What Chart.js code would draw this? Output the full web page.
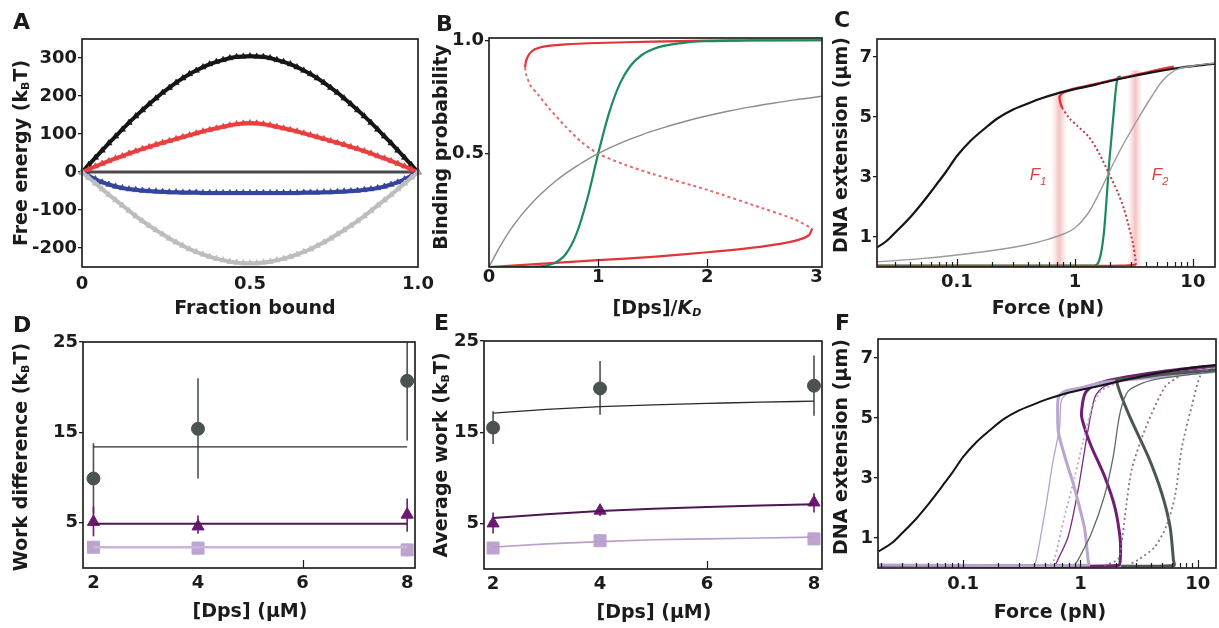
<!DOCTYPE html>
<html>
<head>
<meta charset="utf-8">
<script src="https://cdn.jsdelivr.net/npm/chart.js@4.4.1/dist/chart.umd.min.js"></script>
<style>
  body { margin: 0; background: #fff; }
  #fig { position: relative; width: 1219px; height: 628px; overflow: hidden;
         font-family: "DejaVu Sans", sans-serif; color: #1b1b1b; }
  #fig canvas { position: absolute; }
  .lbl { position: absolute; white-space: nowrap; font-weight: bold; font-size: 19px;
         transform: translate(-50%, -50%); }
  .ylbl { transform: translate(-50%, -50%) rotate(-90deg); }
  .lbl sub { font-size: 11px; vertical-align: -2px; }
  .tag { position: absolute; font-weight: bold; font-size: 22px; line-height: 1; }
  .force { position: absolute; font-family: "Liberation Sans", sans-serif; font-style: italic;
           font-size: 17px; color: #d9433f; transform: translate(-50%, -50%); }
  .force sub { font-size: 11px; }
</style>
</head>
<body>
<div id="fig">
  <div class="tag" style="left:13px;top:11px">A</div>
  <div class="tag" style="left:436px;top:13px">B</div>
  <div class="tag" style="left:834px;top:9px">C</div>
  <div class="tag" style="left:13px;top:314px">D</div>
  <div class="tag" style="left:434px;top:312px">E</div>
  <div class="tag" style="left:835px;top:312px">F</div>

  <div class="lbl ylbl" style="left:20px;top:153px">Free energy (k<sub>B</sub>T)</div>
  <div class="lbl" style="left:255px;top:307px">Fraction bound</div>
  <div class="lbl ylbl" style="left:440px;top:147px">Binding probability</div>
  <div class="lbl" style="left:657px;top:307px">[Dps]/<i>K</i><sub><i>D</i></sub></div>
  <div class="lbl ylbl" style="left:840px;top:145px">DNA extension (µm)</div>
  <div class="lbl" style="left:1048px;top:307px">Force (pN)</div>
  <div class="lbl ylbl" style="left:20px;top:457px">Work difference (k<sub>B</sub>T)</div>
  <div class="lbl" style="left:250px;top:610px">[Dps] (µM)</div>
  <div class="lbl ylbl" style="left:440px;top:455px">Average work (k<sub>B</sub>T)</div>
  <div class="lbl" style="left:654px;top:611px">[Dps] (µM)</div>
  <div class="lbl ylbl" style="left:840px;top:447px">DNA extension (µm)</div>
  <div class="lbl" style="left:1050px;top:611px">Force (pN)</div>

  <div class="force" style="left:1038px;top:176px">F<sub>1</sub></div>
  <div class="force" style="left:1160px;top:176px">F<sub>2</sub></div>
</div>

<script>
/* ---------- A: free energy along the binding coordinate ---------- */
const aFraction = [0,0.02,0.04,0.06,0.08,0.1,0.12,0.14,0.16,0.18,0.2,0.22,0.24,0.26,0.28,0.3,0.32,0.34,0.36,0.38,0.4,0.42,0.44,0.46,0.48,0.5,
  0.52,0.54,0.56,0.58,0.6,0.62,0.64,0.66,0.68,0.7,0.72,0.74,0.76,0.78,0.8,0.82,0.84,0.86,0.88,0.9,0.92,0.94,0.96,0.98,1];
const aBlack = [0,19,38,57,76,94,112,130,147,163,179,194,209,222,235,247,258,267,276,284,290,295,300,303,304,305,
  304,303,300,295,290,284,276,267,258,247,235,222,209,194,179,163,147,130,112,94,76,57,38,19,0];
const aRed = [0,7,15,22,29,36,42,49,55,61,66,72,77,82,87,92,97,102,107,111,115,119,123,126,128,129,
  128,126,123,119,115,111,107,102,97,92,87,82,77,72,66,61,55,49,42,36,29,22,15,7,0];
const aBlue = [0,-10,-19,-27,-33,-38,-42,-45,-47,-49,-50,-51,-52,-53,-53,-54,-54,-54,-55,-55,-55,-55,-55,-55,-55,-55,
  -55,-55,-55,-55,-55,-55,-55,-54,-54,-54,-53,-53,-52,-51,-50,-49,-47,-45,-42,-38,-33,-27,-19,-10,0];
const aGray = [0,-15,-30,-45,-60,-74,-88,-102,-116,-129,-141,-153,-164,-175,-185,-194,-203,-210,-217,-223,-228,-232,-236,-238,-240,-240,
  -240,-238,-236,-232,-228,-223,-217,-210,-203,-194,-185,-175,-164,-153,-141,-129,-116,-102,-88,-74,-60,-45,-30,-15,0];
const aZero = [[0,0],[1,0]];
const aXTicks = [0, 0.5, 1];
const aYTicks = [-200, -100, 0, 100, 200, 300];

/* ---------- B: binding probability vs [Dps]/KD ---------- */
const bConc  = [0,0.1,0.2,0.3,0.4,0.5,0.6,0.7,0.8,0.9,1.0,1.1,1.2,1.3,1.4,1.5,1.6,1.8,2.0,2.2,2.4,2.6,2.8,3.0,3.05];
const bGray  = [0,0.09,0.167,0.231,0.286,0.333,0.375,0.412,0.444,0.474,0.5,0.524,0.545,0.565,0.583,0.6,0.615,0.643,0.667,0.688,0.706,0.722,0.737,0.75,0.753];
const bGreen = [0,0,0,0,0.001,0.004,0.017,0.055,0.145,0.3,0.5,0.68,0.81,0.89,0.935,0.96,0.975,0.99,0.996,0.998,1,1,1,1,1];
const bRedUpper  = [[0.33,0.88],[0.34,0.91],[0.37,0.94],[0.42,0.96],[0.5,0.972],[0.7,0.982],[1.0,0.988],[1.5,0.994],[2.0,0.998],[3.05,1.0]];
const bRedMiddle = [[0.33,0.88],[0.34,0.85],[0.38,0.8],[0.45,0.76],[0.55,0.7],[0.7,0.62],[0.85,0.55],[1.0,0.5],[1.25,0.45],
  [1.5,0.41],[2.0,0.34],[2.5,0.26],[2.8,0.21],[2.96,0.17]];
const bRedLower  = [[0,0],[0.5,0.015],[1.0,0.03],[1.5,0.045],[2.0,0.065],[2.5,0.09],[2.8,0.115],[2.93,0.14],[2.96,0.17]];
const bXTicks = [0, 1, 2, 3];
const bYTicks = [0.5, 1.0];

/* ---------- C and F: force-extension curves ---------- */
const wlc = [[0.019,0.55],[0.025,0.85],[0.03,1.15],[0.04,1.65],[0.05,2.1],[0.06,2.5],[0.07,2.85],[0.08,3.15],[0.1,3.7],[0.13,4.2],
  [0.17,4.6],[0.22,4.95],[0.3,5.25],[0.4,5.45],[0.5,5.6],[0.7,5.78],[1,5.93],[1.5,6.08],[2,6.2],[3,6.35],[5,6.52],[8,6.65],[15.4,6.78]];
const cGray = [[0.021,0.17],[0.05,0.28],[0.1,0.4],[0.2,0.55],[0.4,0.75],[0.6,0.93],[0.8,1.1],[1,1.3],[1.3,1.8],[1.6,2.45],[2,3.25],
  [2.5,4.0],[3,4.55],[3.5,5.0],[4.5,5.7],[5.5,6.2],[7,6.55],[10,6.7],[15.4,6.8]];
const cRedUpper  = [[0.78,5.3],[0.75,5.5],[0.74,5.68],[0.8,5.82],[1,5.95],[1.5,6.1],[2,6.22],[3,6.37],[4,6.48],[5.5,6.6],[6.9,6.68]];
const cRedMiddle = [[0.78,5.3],[0.9,4.95],[1.05,4.7],[1.31,4.34],[1.6,3.8],[1.94,3.12],[2.3,2.5],[2.6,1.95],[2.87,1.34],[3.1,0.8],[3.27,0.23],[3.3,0.08]];
const cRedLower  = [[0.021,0.04],[1,0.04],[2.5,0.05],[3.3,0.08]];
const cGreen = [[0.021,0.05],[1.45,0.05],[1.6,0.2],[1.76,1.13],[1.85,2.2],[1.94,3.34],[2.05,4.4],[2.14,5.23],[2.22,5.9],[2.3,6.3],[2.45,6.35]];
const cBands = [[0.63,0.86,5.75],[2.8,3.75,6.55]];   // F1, F2: [low force, high force, top extension]

const fLightThin   = [[0.019,0.1],[0.4,0.1],[0.42,0.27],[0.5,1.9],[0.58,3.5],[0.665,4.7],[0.69,5.6],[0.84,5.9],[1.5,6.2],[14.3,6.65]];
const fLightThick  = [[14.3,6.55],[3,6.3],[1.5,6.15],[1,6.0],[0.75,5.9],[0.65,5.7],[0.64,5.0],[0.65,4.5],[0.75,3.6],[0.87,2.8],
  [1.0,1.9],[1.09,1.27],[1.16,0.27],[1.17,0.1],[0.019,0.1]];
const fLightDotted = [[0.55,0.1],[0.6,0.3],[0.73,1.7],[0.89,3.0],[1.05,4.2],[1.25,5.3],[1.5,5.9],[2,6.15]];
const fPurpleThin  = [[0.019,0.1],[0.6,0.1],[0.64,0.27],[0.785,1.04],[0.955,2.6],[1.16,4.6],[1.33,5.7],[1.6,6.05],[3,6.35],[14.3,6.7]];
const fPurpleThick = [[14.3,6.75],[5,6.55],[2,6.3],[1.3,6.1],[1.09,5.8],[1.02,5.1],[1.1,4.6],[1.24,4.04],[1.61,3.04],[1.96,2.04],
  [2.17,1.04],[2.19,0.4],[2.1,0.08],[0.019,0.08]];
const fPurpleDotted = [[1.6,0.08],[2.1,0.3],[2.24,0.8],[2.39,1.7],[2.73,3.27],[3.54,4.6],[5.26,6.04],[7,6.4]];
const fGrayThin  = [[0.9,0.12],[0.955,0.27],[1.24,1.16],[1.6,2.4],[1.9,3.7],[2.17,5.15],[2.56,5.9],[4,6.25],[14.3,6.55]];
const fGrayThick = [[14.3,6.6],[5,6.45],[2.5,6.3],[2.03,6.27],[2.56,5.15],[3.79,3.7],[4.93,2.49],[5.8,1.38],[6.2,0.27],[6.25,0.08],[2.2,0.06]];
const fGrayDotted = [[2.5,0.08],[3.1,0.27],[4.3,0.7],[5.4,1.4],[6.4,2.4],[7.3,4.0],[8.9,5.4],[10.8,6.5],[14.3,6.7]];

const forceMajor = [0.1, 1, 10];
const forceMinor = [0.02,0.03,0.04,0.05,0.06,0.07,0.08,0.09,0.2,0.3,0.4,0.5,0.6,0.7,0.8,0.9,2,3,4,5,6,7,8,9];
const extTicks = [1, 3, 5, 7];

/* ---------- D: work difference, E: average work ---------- */
const dpsConc = [2, 4, 8];
const dpsTicks = [2, 4, 6, 8];
const workTicks = [5, 15, 25];

const dCircle = [9.9, 15.4, 20.7],  dCircleLo = [6.0, 9.9, 14.1], dCircleHi = [13.8, 21.0, 27.3];
const dTri    = [5.1, 4.6, 5.9],    dTriLo    = [3.5, 3.8, 4.0],  dTriHi    = [6.8, 5.8, 7.7];
const dSquare = [2.3, 2.2, 2.0],    dSquareLo = [1.6, 1.5, 1.3],  dSquareHi = [3.0, 2.9, 2.7];
const dFitConc = [2, 8];
const dFitCircle = [13.4, 13.4], dFitTri = [4.9, 4.9], dFitSquare = [2.3, 2.3];

const eCircle = [15.5, 19.8, 20.1], eCircleLo = [13.7, 16.9, 16.8], eCircleHi = [17.3, 22.8, 23.4];
const eTri    = [5.0, 6.4, 7.3],    eTriLo    = [3.9, 5.8, 6.2],   eTriHi    = [6.2, 7.0, 8.3];
const eSquare = [2.3, 3.1, 3.3],    eSquareLo = [1.7, 2.5, 2.7],   eSquareHi = [2.9, 3.7, 3.9];
const eFitConc = [2, 3, 4, 5, 6, 7, 8];
const eFitCircle = [17.1, 17.5, 17.8, 18.0, 18.15, 18.3, 18.4];
const eFitTri    = [5.6, 6.0, 6.35, 6.6, 6.8, 6.95, 7.1];
const eFitSquare = [2.4, 2.75, 3.0, 3.2, 3.3, 3.4, 3.5];

/* ---------- shared styling ---------- */
const INK = '#1b1b1b';
const TICK_FONT = { family: '"DejaVu Sans", sans-serif', size: 18, weight: 'bold' };
const fig = document.getElementById('fig');

const xy = (xs, ys) => xs.map((x, i) => ({ x, y: ys[i] }));
const pairs = arr => arr.map(([x, y]) => ({ x, y }));

function curve(data, color, width, extra) {
  return Object.assign({ data, showLine: true, borderColor: color, borderWidth: width,
    pointRadius: 0, tension: 0.25, fill: false }, extra || {});
}
// x-monotone curves get a monotone spline so they stay smooth
const smooth = (data, color, width, extra) =>
  curve(data, color, width, Object.assign({ cubicInterpolationMode: 'monotone' }, extra || {}));

function xAxis(type, min, max, ticks, fmt, pad) {
  return {
    type, min, max, position: 'bottom',
    afterBuildTicks: s => { s.ticks = ticks.map(v => ({ value: v })); },
    grid: { display: false, drawTicks: false },
    border: { display: false },
    ticks: { color: INK, font: TICK_FONT, padding: pad, maxRotation: 0, autoSkip: false, callback: fmt }
  };
}
function yAxis(min, max, ticks, fmt) {
  return {
    type: 'linear', min, max,
    afterBuildTicks: s => { s.ticks = ticks.map(v => ({ value: v })); },
    grid: { display: true, drawOnChartArea: false, drawTicks: true, tickLength: 4, color: INK, lineWidth: 1.3 },
    border: { display: false },
    ticks: { color: INK, font: TICK_FONT, padding: 1, autoSkip: false, callback: fmt }
  };
}

// box around the plotting area
const frame = {
  id: 'frame',
  afterDatasetsDraw(chart) {
    const { ctx, chartArea: a } = chart;
    ctx.save();
    ctx.strokeStyle = '#222';
    ctx.lineWidth = 1.7;
    ctx.strokeRect(a.left, a.top, a.right - a.left, a.bottom - a.top);
    ctx.restore();
  }
};

// tick marks pointing into the plot from the bottom edge
function innerTicks(major, minor) {
  return {
    id: 'innerTicks',
    afterDatasetsDraw(chart) {
      const { ctx, chartArea: a, scales: { x } } = chart;
      ctx.save();
      ctx.strokeStyle = INK;
      ctx.lineWidth = 1.2;
      const mark = (v, len) => {
        const px = Math.round(x.getPixelForValue(v)) + 0.5;
        if (px < a.left + 2 || px > a.right - 2) return;
        ctx.beginPath(); ctx.moveTo(px, a.bottom); ctx.lineTo(px, a.bottom - len); ctx.stroke();
      };
      major.forEach(v => mark(v, 8));
      minor.forEach(v => mark(v, 5));
      ctx.restore();
    }
  };
}

// vertical error bars under the markers
function errorBars(sets) {
  return {
    id: 'errorBars',
    beforeDatasetsDraw(chart) {
      const { ctx, chartArea: a, scales: { x, y } } = chart;
      ctx.save();
      ctx.beginPath(); ctx.rect(a.left, a.top, a.right - a.left, a.bottom - a.top); ctx.clip();
      sets.forEach(s => {
        ctx.strokeStyle = s.color;
        ctx.lineWidth = 1.6;
        s.x.forEach((v, i) => {
          const px = x.getPixelForValue(v);
          ctx.beginPath();
          ctx.moveTo(px, y.getPixelForValue(s.lo[i]));
          ctx.lineTo(px, y.getPixelForValue(s.hi[i]));
          ctx.stroke();
        });
      });
      ctx.restore();
    }
  };
}

// soft pink bands marking the transition forces
function forceBands(ranges) {
  return {
    id: 'forceBands',
    beforeDatasetsDraw(chart) {
      const { ctx, chartArea: a, scales: { x, y } } = chart;
      ctx.save();
      ranges.forEach(([lo, hi, top]) => {
        const l = x.getPixelForValue(lo), r = x.getPixelForValue(hi), t = y.getPixelForValue(top);
        const g = ctx.createLinearGradient(l, 0, r, 0);
        g.addColorStop(0, 'rgba(240,150,150,0)');
        g.addColorStop(0.5, 'rgba(236,120,122,0.45)');
        g.addColorStop(1, 'rgba(240,150,150,0)');
        ctx.fillStyle = g;
        ctx.fillRect(l, t, r - l, a.bottom - t);
      });
      ctx.restore();
    }
  };
}

// one canvas per panel; the plotting area lands on box {L,T,R,B}
function panel(box, yw, xh, scales, datasets, extra) {
  const pt = 14, pr = 26;
  const cv = document.createElement('canvas');
  const w = box.R - box.L + yw + pr, h = box.B - box.T + pt + xh;
  cv.width = w; cv.height = h;
  cv.style.width = w + 'px'; cv.style.height = h + 'px';
  cv.style.left = (box.L - yw) + 'px';
  cv.style.top = (box.T - pt) + 'px';
  fig.insertBefore(cv, fig.firstChild);
  scales.y.afterFit = s => { s.width = yw; };
  scales.x.afterFit = s => { s.height = xh; };
  return new Chart(cv, {
    type: 'scatter',
    data: { datasets },
    options: {
      responsive: false, animation: false, devicePixelRatio: 1,
      layout: { padding: { left: 0, top: pt, right: pr, bottom: 0 } },
      plugins: { legend: { display: false }, tooltip: { enabled: false } },
      scales
    },
    plugins: [...(extra || []), frame]
  });
}

// a thick line studded with small triangles gives the serrated energy bands
function zigzag(ys, color) {
  return curve(xy(aFraction, ys), color, 4, {
    tension: 0, pointStyle: 'triangle', pointRadius: 3.6, pointBorderWidth: 0.6,
    pointBorderColor: color, pointBackgroundColor: color, clip: false
  });
}

/* A */
panel({ L: 82, T: 39, R: 418, B: 267 }, 60, 36,
  { x: xAxis('linear', 0, 1, aXTicks, v => v === 0 ? '0' : v.toFixed(1), 7),
    y: yAxis(-250, 350, aYTicks, v => String(v)) },
  [
    zigzag(aGray, '#bdbdbd'),
    zigzag(aBlue, '#34449f'),
    zigzag(aRed, '#e8403f'),
    zigzag(aBlack, '#161616'),
    curve(pairs(aZero), '#4a4a4a', 3, { tension: 0 })
  ]);

/* B */
panel({ L: 489, T: 38, R: 822, B: 267 }, 46, 36,
  { x: xAxis('linear', 0, 3.05, bXTicks, v => String(v), 0),
    y: yAxis(0, 1.01, bYTicks, v => v.toFixed(1)) },
  [
    smooth(xy(bConc, bGray), '#8c8c8c', 1.4),
    smooth(xy(bConc, bGreen), '#1c8a5e', 2.2),
    curve(pairs(bRedMiddle), '#e46a6a', 2, { borderDash: [3, 3] }),
    curve(pairs(bRedLower), '#e3343a', 2.2),
    curve(pairs(bRedUpper), '#e3343a', 2.2)
  ],
  [innerTicks([1, 2], [])]);

/* C */
panel({ L: 877, T: 39, R: 1215, B: 267 }, 30, 36,
  { x: xAxis('logarithmic', 0.021, 15.4, forceMajor, v => String(v), 5),
    y: yAxis(0, 7.6, extTicks, v => String(v)) },
  [
    smooth(pairs(cGray), '#9a9a9a', 1.4),
    smooth(pairs(wlc), '#141414', 2.2),
    curve(pairs(cRedMiddle), '#c9353c', 2, { borderDash: [2, 2.5] }),
    curve(pairs(cRedLower), '#c9353c', 2),
    curve(pairs(cRedUpper), '#e3343a', 2.4),
    smooth(pairs(cGreen), '#1c8a5e', 2.2)
  ],
  [forceBands(cBands), innerTicks(forceMajor, forceMinor)]);

/* D */
const purple = '#6d1873', lilac = '#bca4cf', slate = '#4a5350';
function markers(xs, ys, style, color, r) {
  return { data: xy(xs, ys), showLine: false, pointStyle: style, pointRadius: r,
    pointBackgroundColor: color, pointBorderColor: color, pointBorderWidth: 1, clip: false };
}
panel({ L: 83, T: 342, R: 415, B: 568 }, 50, 36,
  { x: xAxis('linear', 1.8, 8.15, dpsTicks, v => String(v), 5),
    y: yAxis(0, 25, workTicks, v => String(v)) },
  [
    curve(xy(dFitConc, dFitSquare), '#c9b5db', 2.6, { tension: 0 }),
    curve(xy(dFitConc, dFitTri), '#4c1850', 2, { tension: 0 }),
    curve(xy(dFitConc, dFitCircle), '#2a2a2a', 1.3, { tension: 0 }),
    markers(dpsConc, dSquare, 'rect', lilac, 8.5),
    markers(dpsConc, dTri, 'triangle', purple, 7),
    markers(dpsConc, dCircle, 'circle', slate, 6.5)
  ],
  [errorBars([
    { x: dpsConc, lo: dCircleLo, hi: dCircleHi, color: slate },
    { x: dpsConc, lo: dTriLo, hi: dTriHi, color: purple },
    { x: dpsConc, lo: dSquareLo, hi: dSquareHi, color: lilac }
  ]), innerTicks([6], [])]);

/* E */
panel({ L: 484, T: 341, R: 822, B: 569 }, 46, 36,
  { x: xAxis('linear', 1.83, 8.15, dpsTicks, v => String(v), 5),
    y: yAxis(0, 25, workTicks, v => String(v)) },
  [
    smooth(xy(eFitConc, eFitSquare), '#b79fca', 1.6),
    smooth(xy(eFitConc, eFitTri), '#4c1850', 2),
    smooth(xy(eFitConc, eFitCircle), '#2a2a2a', 1.3),
    markers(dpsConc, eSquare, 'rect', lilac, 8.5),
    markers(dpsConc, eTri, 'triangle', purple, 7),
    markers(dpsConc, eCircle, 'circle', slate, 6.5)
  ],
  [errorBars([
    { x: dpsConc, lo: eCircleLo, hi: eCircleHi, color: slate },
    { x: dpsConc, lo: eTriLo, hi: eTriHi, color: purple },
    { x: dpsConc, lo: eSquareLo, hi: eSquareHi, color: lilac }
  ]), innerTicks([6], [])]);

/* F */
const dotted = { borderDash: [2, 3] };
panel({ L: 878, T: 339, R: 1216, B: 568 }, 30, 36,
  { x: xAxis('logarithmic', 0.0188, 14.3, forceMajor, v => String(v), 6),
    y: yAxis(0, 7.63, extTicks, v => String(v)) },
  [
    smooth(pairs(wlc), '#141414', 2),
    curve(pairs(fGrayDotted), '#7d7a80', 1.8, dotted),
    curve(pairs(fGrayThin), '#5c6c62', 1.3),
    curve(pairs(fGrayThick), '#4b5652', 3),
    curve(pairs(fLightDotted), '#c49ed0', 1.8, dotted),
    curve(pairs(fLightThin), '#b6a4ca', 1.3),
    curve(pairs(fLightThick), '#b9a5cd', 3),
    curve(pairs(fPurpleDotted), '#8d6a90', 1.8, dotted),
    curve(pairs(fPurpleThin), '#7a2c7e', 1.3),
    curve(pairs(fPurpleThick), '#6f1c74', 3)
  ],
  [innerTicks(forceMajor, forceMinor)]);
</script>
</body>
</html>
